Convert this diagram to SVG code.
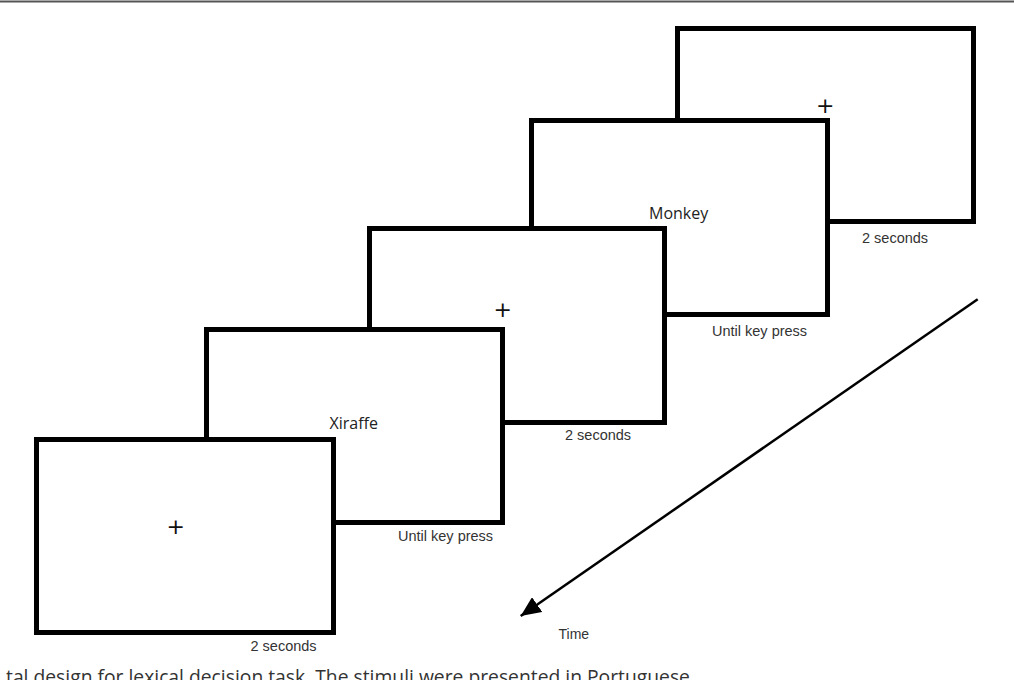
<svg xmlns="http://www.w3.org/2000/svg" width="1014" height="680" viewBox="0 0 1014 680">
  <style>
    .screen { fill: #ffffff; stroke: #000000; stroke-width: 5; }
    .lbl { font-family: "Liberation Sans", Arial, sans-serif; font-size: 14.5px; fill: #333333; }
    .word { font-family: "Open Sans", "Noto Sans", sans-serif; font-size: 16px; fill: #222222; }
    .fix { font-family: "DejaVu Sans", sans-serif; font-size: 22px; fill: #111111; text-anchor: middle; }
    .cap { font-family: "Open Sans", "Noto Sans", sans-serif; font-size: 19.5px; fill: #333333; }
  </style>
  <defs>
    <marker id="arrowhead" markerUnits="userSpaceOnUse" markerWidth="22" markerHeight="18" refX="20" refY="9" orient="auto">
      <polygon points="0,0 20,9 0,18" fill="#000000"/>
    </marker>
  </defs>
  <rect x="0" y="0" width="1014" height="680" fill="#ffffff"/>
  <line x1="0" y1="1.5" x2="1014" y2="1.5" stroke="#555555" stroke-width="2"/>

  <g id="screen5">
    <rect class="screen" x="677.5" y="28.5" width="296" height="193"/>
    <text class="fix" x="825.3" y="112.5">+</text>
    <text class="lbl" x="862" y="242.5">2 seconds</text>
  </g>
  <g id="screen4">
    <rect class="screen" x="531.5" y="120.5" width="296" height="194"/>
    <text class="word" x="649" y="218.5">Monkey</text>
    <text class="lbl" x="712" y="335.5">Until key press</text>
  </g>
  <g id="screen3">
    <rect class="screen" x="369.5" y="228.5" width="295" height="194"/>
    <text class="fix" x="502.7" y="316.5">+</text>
    <text class="lbl" x="565" y="440">2 seconds</text>
  </g>
  <g id="screen2">
    <rect class="screen" x="206.5" y="329.5" width="296" height="193"/>
    <text class="word" x="329.5" y="429">Xiraffe</text>
    <text class="lbl" x="398" y="541">Until key press</text>
  </g>
  <g id="screen1">
    <rect class="screen" x="36.5" y="439.5" width="297" height="193"/>
    <text class="fix" x="175.7" y="533.5">+</text>
    <text class="lbl" x="250.5" y="651">2 seconds</text>
  </g>

  <g id="connectors">
    <line x1="977.7" y1="299.3" x2="520.7" y2="616" stroke="#000000" stroke-width="2.5" marker-end="url(#arrowhead)"/>
  </g>
  <g id="time-label">
    <text class="lbl" x="558.5" y="638.5" style="font-size:14px">Time</text>
  </g>
  <g id="caption">
    <text class="cap" x="6" y="684" textLength="689" lengthAdjust="spacingAndGlyphs">tal design for lexical decision task. The stimuli were presented in Portuguese.</text>
  </g>
</svg>
